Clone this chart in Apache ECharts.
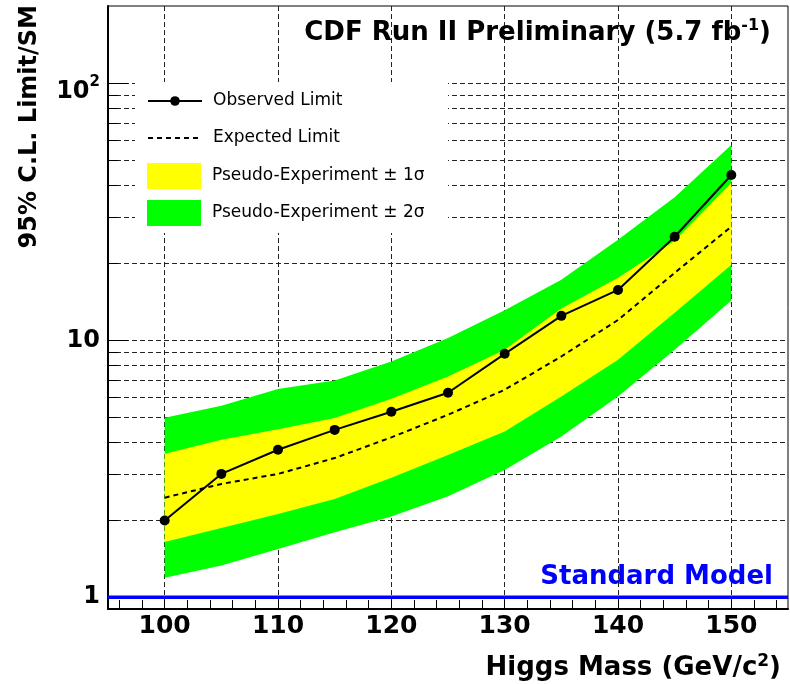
<!DOCTYPE html>
<html>
<head>
<meta charset="utf-8">
<script src="https://cdn.jsdelivr.net/npm/echarts@6/dist/echarts.min.js"></script>
<style>
  html, body { margin: 0; padding: 0; background: #fff; }
  #chart { width: 790px; height: 684px; }
</style>
</head>
<body>
<div id="chart"></div>
<script>
// Higgs mass points (GeV/c^2)
const masses = [100, 105, 110, 115, 120, 125, 130, 135, 140, 145, 150];
// 95% C.L. limits divided by the SM cross section
const observed = [1.99, 3.02, 3.75, 4.48, 5.27, 6.25, 8.86, 12.45, 15.7, 25.3, 44.0];
const expected = [2.44, 2.76, 3.02, 3.48, 4.19, 5.13, 6.42, 8.65, 12.0, 18.3, 27.7];
const band1Lo = [1.64, 1.86, 2.11, 2.41, 2.92, 3.58, 4.42, 6.04, 8.40, 12.8, 19.7];
const band1Hi = [3.62, 4.10, 4.51, 4.98, 5.92, 7.23, 9.19, 13.3, 17.5, 24.4, 40.9];
const band2Lo = [1.19, 1.33, 1.54, 1.79, 2.06, 2.47, 3.13, 4.22, 6.04, 9.19, 14.3];
const band2Hi = [4.99, 5.56, 6.46, 6.98, 8.27, 10.2, 13.1, 17.2, 24.6, 36.0, 57.6];
const standardModel = 1;

// axis ticks
const xLabelTicks = [100, 110, 120, 130, 140, 150];
const xMinorTicks = [];
for (let v = 96; v < 155; v += 2) xMinorTicks.push(v);
const yLabelTicks = [1, 10, 100];
const yMinorTicks = [2, 3, 4, 5, 6, 7, 8, 9, 20, 30, 40, 50, 60, 70, 80, 90];

const FONT = 'DejaVu Sans';
const X_MIN = 95, X_MAX = 155, Y_MIN = 0.9, Y_MAX = 200;

const gridDash = { color: '#222', width: 1, type: [5, 3] };

// filled band between lo and hi, drawn as one polygon
function bandSeries(name, lo, hi, color) {
  return {
    name: name,
    type: 'custom',
    z: 2,
    itemStyle: { color: color },
    data: masses.map((m, i) => [m, lo[i], hi[i]]),
    encode: { x: 0, y: [1, 2] },
    renderItem: function (params, api) {
      if (params.dataIndex !== 0) return null;
      const pts = [];
      for (let i = 0; i < masses.length; i++) pts.push(api.coord([masses[i], hi[i]]));
      for (let i = masses.length - 1; i >= 0; i--) pts.push(api.coord([masses[i], lo[i]]));
      return { type: 'polygon', shape: { points: pts }, style: { fill: color } };
    }
  };
}

const legendText = { fontFamily: FONT, fontSize: 17, color: '#000', padding: [0, 0, 0, 6], lineHeight: 18 };
function legendAt(top, item, h) {
  return {
    data: [item], orient: 'vertical', left: 147, top: top, padding: 0,
    itemWidth: 54, itemHeight: h, selectedMode: false, textStyle: legendText
  };
}

const chart = echarts.init(document.getElementById('chart'), null, { renderer: 'canvas' });
chart.setOption({
  animation: false,
  backgroundColor: '#fff',
  grid: {
    left: 108, right: 2, top: 6, bottom: 75,
    show: true, borderColor: '#000', borderWidth: 1, backgroundColor: 'transparent',
    containLabel: false, outerBoundsMode: 'none'
  },
  legend: [
    legendAt(92, 'Observed Limit', 12),
    // dashed line only, no marker
    legendAt(129, { name: 'Expected Limit', itemStyle: { opacity: 0 } }, 12),
    legendAt(163, { name: 'Pseudo-Experiment \u00b1 1\u03c3', icon: 'rect' }, 26),
    legendAt(200, { name: 'Pseudo-Experiment \u00b1 2\u03c3', icon: 'rect' }, 26)
  ],
  xAxis: [
    {
      type: 'value', min: X_MIN, max: X_MAX, position: 'bottom',
      axisLine: { show: true, onZero: false, lineStyle: { color: '#000', width: 2 } },
      axisTick: { show: true, inside: true, length: 9, customValues: xMinorTicks, lineStyle: { color: '#000', width: 1 } },
      axisLabel: { show: false },
      splitLine: { show: false }
    },
    {
      type: 'value', min: X_MIN, max: X_MAX, position: 'bottom',
      axisLine: { show: false, onZero: false },
      axisTick: { show: true, inside: true, length: 9, customValues: xLabelTicks, lineStyle: { color: '#000', width: 1 } },
      axisLabel: {
        show: true, customValues: xLabelTicks, margin: 5,
        fontFamily: FONT, fontSize: 25, fontWeight: 'bold', color: '#000'
      },
      splitLine: { show: true, lineStyle: gridDash }
    }
  ],
  yAxis: [
    {
      type: 'log', logBase: 10, min: Y_MIN, max: Y_MAX, position: 'left',
      axisLine: { show: true, lineStyle: { color: '#000', width: 2 } },
      axisTick: { show: true, inside: true, length: 20, customValues: yLabelTicks, lineStyle: { color: '#000', width: 1 } },
      axisLabel: {
        show: true, customValues: yLabelTicks, margin: 8,
        fontFamily: FONT, fontSize: 24, fontWeight: 'bold', color: '#000',
        formatter: function (v) {
          const r = Math.round(v);
          return r === 100 ? '{b|10}{s|2}' : '{n|' + r + '}';
        },
        rich: {
          n: { fontFamily: FONT, fontSize: 24, fontWeight: 'bold', color: '#000', lineHeight: 26 },
          b: { fontFamily: FONT, fontSize: 24, fontWeight: 'bold', color: '#000', lineHeight: 26, padding: [16, 0, 0, 0] },
          s: { fontFamily: FONT, fontSize: 15, fontWeight: 'bold', color: '#000', lineHeight: 16, padding: [0, 0, 2, 0] }
        }
      },
      splitLine: { show: true, lineStyle: gridDash }
    },
    {
      type: 'log', logBase: 10, min: Y_MIN, max: Y_MAX, position: 'left',
      axisLine: { show: false },
      axisTick: { show: true, inside: true, length: 10, customValues: yMinorTicks, lineStyle: { color: '#000', width: 1 } },
      axisLabel: { show: false },
      splitLine: { show: true, lineStyle: gridDash }
    }
  ],
  graphic: [
    // white panel behind the legend
    { type: 'rect', z: 3, shape: { x: 135, y: 82, width: 313, height: 151 }, style: { fill: '#fff' } },
    {
      type: 'text', z: 5, x: 771, y: 33,
      style: {
        text: '{a|CDF Run II Preliminary (5.7 fb}{s|-1}{a|)}',
        align: 'right', verticalAlign: 'middle',
        rich: {
          a: { fontFamily: FONT, fontSize: 26, fontWeight: 'bold', fill: '#000', lineHeight: 30 },
          s: { fontFamily: FONT, fontSize: 16, fontWeight: 'bold', fill: '#000', lineHeight: 16, padding: [0, 0, 14, 0] }
        }
      }
    },
    {
      type: 'text', z: 5, x: 30, y: 5, rotation: Math.PI / 2,
      style: {
        text: '95% C.L. Limit/SM', align: 'right', verticalAlign: 'middle',
        font: 'bold 24px "DejaVu Sans"', fill: '#000'
      }
    },
    {
      type: 'text', z: 5, x: 781, y: 668,
      style: {
        text: '{a|Higgs Mass (GeV/c}{s|2}{a|)}',
        align: 'right', verticalAlign: 'middle',
        rich: {
          a: { fontFamily: FONT, fontSize: 26, fontWeight: 'bold', fill: '#000', lineHeight: 30 },
          s: { fontFamily: FONT, fontSize: 17, fontWeight: 'bold', fill: '#000', lineHeight: 17, padding: [0, 0, 12, 0] }
        }
      }
    },
    {
      type: 'text', z: 5, x: 773, y: 577,
      style: {
        text: 'Standard Model', align: 'right', verticalAlign: 'middle',
        font: 'bold 26px "DejaVu Sans"', fill: '#0000ff'
      }
    }
  ],
  series: [
    bandSeries('Pseudo-Experiment \u00b1 2\u03c3', band2Lo, band2Hi, '#00ff00'),
    bandSeries('Pseudo-Experiment \u00b1 1\u03c3', band1Lo, band1Hi, '#ffff00'),
    {
      name: 'Expected Limit', type: 'line', z: 3,
      data: masses.map((m, i) => [m, expected[i]]),
      symbol: 'none', showSymbol: false,
      lineStyle: { color: '#000', width: 2, type: [5, 4] },
      itemStyle: { color: '#000' }
    },
    {
      name: 'Observed Limit', type: 'line', z: 4,
      data: masses.map((m, i) => [m, observed[i]]),
      symbol: 'circle', symbolSize: 10,
      lineStyle: { color: '#000', width: 2 },
      itemStyle: { color: '#000' }
    },
    {
      name: 'Standard Model', type: 'line', z: 4,
      data: [[X_MIN, standardModel], [X_MAX, standardModel]],
      symbol: 'none', showSymbol: false,
      lineStyle: { color: '#0000ff', width: 3.5 }
    }
  ]
});
</script>
</body>
</html>
